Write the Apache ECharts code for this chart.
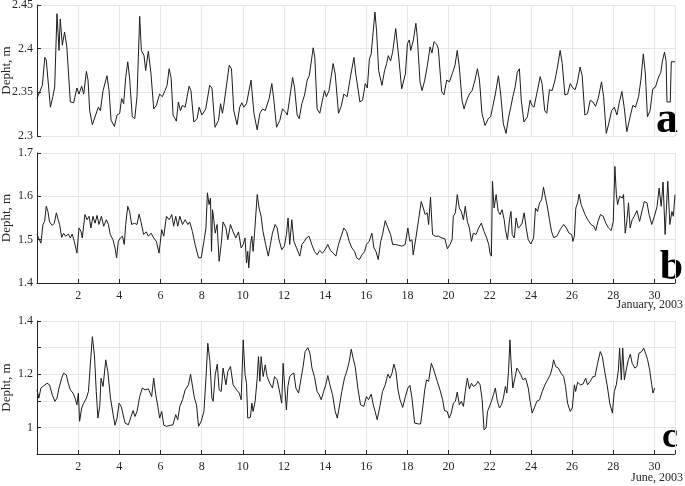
<!DOCTYPE html>
<html>
<head>
<meta charset="utf-8">
<script src="https://cdn.jsdelivr.net/npm/echarts@6/dist/echarts.min.js"></script>
<style>
  html, body { margin: 0; padding: 0; background: #fff; }
  #chart { width: 685px; height: 486px; }
</style>
</head>
<body>
<div id="chart"></div>
<script>
// panel a - January 2003, station depth (day of month, m)
var daysA = [0.00,0.26,0.38,0.45,0.65,0.77,0.86,0.97,1.07,1.13,1.23,1.34,1.45,1.62,1.78,1.94,2.04,2.17,2.27,2.40,2.48,2.56,2.69,2.85,2.98,3.08,3.21,3.30,3.40,3.50,3.60,3.76,3.89,4.02,4.11,4.21,4.31,4.41,4.50,4.63,4.75,4.86,4.99,5.07,5.20,5.28,5.41,5.54,5.67,5.80,5.96,6.09,6.22,6.32,6.42,6.52,6.61,6.77,6.87,6.97,7.06,7.20,7.39,7.48,7.62,7.78,7.88,8.01,8.20,8.39,8.50,8.65,8.82,8.92,9.01,9.07,9.34,9.45,9.56,9.72,9.85,9.95,10.05,10.18,10.40,10.54,10.70,10.83,10.96,11.09,11.28,11.41,11.51,11.64,11.80,11.93,12.06,12.16,12.29,12.42,12.51,12.64,12.74,12.87,13.00,13.13,13.23,13.29,13.42,13.50,13.61,13.74,13.87,13.97,14.06,14.19,14.39,14.49,14.65,14.78,14.91,15.07,15.24,15.40,15.49,15.69,15.82,15.95,16.05,16.15,16.24,16.31,16.42,16.50,16.60,16.76,16.89,16.99,17.07,17.18,17.28,17.43,17.56,17.72,17.80,17.90,18.00,18.09,18.16,18.29,18.41,18.48,18.61,18.71,18.84,18.97,19.10,19.19,19.29,19.42,19.50,19.66,19.77,19.91,20.04,20.20,20.31,20.42,20.52,20.65,20.75,20.88,21.01,21.14,21.27,21.40,21.50,21.62,21.77,21.93,22.04,22.14,22.27,22.42,22.53,22.66,22.79,22.92,23.02,23.12,23.23,23.34,23.44,23.53,23.66,23.83,23.96,24.05,24.15,24.28,24.45,24.54,24.67,24.77,24.90,25.03,25.16,25.29,25.42,25.52,25.65,25.78,25.91,26.04,26.15,26.26,26.39,26.49,26.62,26.75,26.88,27.01,27.14,27.27,27.43,27.53,27.66,27.79,27.92,28.05,28.18,28.28,28.42,28.53,28.66,28.82,28.95,29.08,29.23,29.34,29.46,29.56,29.66,29.79,29.92,30.05,30.18,30.31,30.39,30.49,30.57,30.61,30.77,30.82,31.00];
var depthA = [2.343,2.358,2.390,2.387,2.333,2.345,2.356,2.440,2.398,2.434,2.404,2.419,2.402,2.339,2.338,2.355,2.348,2.357,2.348,2.374,2.364,2.329,2.313,2.324,2.333,2.329,2.352,2.351,2.369,2.352,2.318,2.311,2.324,2.326,2.343,2.337,2.367,2.385,2.366,2.322,2.320,2.345,2.437,2.398,2.392,2.375,2.397,2.371,2.331,2.335,2.348,2.345,2.352,2.358,2.377,2.366,2.324,2.317,2.339,2.329,2.335,2.333,2.357,2.352,2.316,2.320,2.333,2.324,2.331,2.358,2.355,2.310,2.318,2.337,2.326,2.334,2.381,2.377,2.329,2.313,2.333,2.338,2.333,2.337,2.364,2.326,2.307,2.326,2.331,2.329,2.343,2.360,2.341,2.310,2.318,2.331,2.328,2.324,2.345,2.367,2.356,2.324,2.320,2.337,2.347,2.364,2.369,2.379,2.401,2.390,2.331,2.326,2.341,2.352,2.345,2.352,2.383,2.371,2.326,2.334,2.348,2.345,2.369,2.390,2.371,2.339,2.341,2.360,2.355,2.388,2.394,2.413,2.442,2.420,2.375,2.358,2.375,2.383,2.392,2.386,2.396,2.423,2.394,2.354,2.353,2.371,2.406,2.410,2.398,2.410,2.429,2.413,2.362,2.352,2.364,2.381,2.402,2.395,2.408,2.405,2.400,2.351,2.347,2.364,2.362,2.373,2.381,2.398,2.379,2.341,2.331,2.341,2.348,2.352,2.363,2.377,2.364,2.326,2.312,2.320,2.322,2.333,2.348,2.369,2.348,2.314,2.303,2.322,2.333,2.345,2.356,2.373,2.377,2.341,2.316,2.322,2.341,2.335,2.333,2.348,2.368,2.360,2.329,2.326,2.353,2.352,2.363,2.379,2.398,2.383,2.347,2.348,2.360,2.355,2.353,2.362,2.379,2.369,2.324,2.326,2.341,2.339,2.334,2.343,2.362,2.345,2.303,2.315,2.329,2.333,2.324,2.337,2.351,2.333,2.305,2.322,2.335,2.333,2.345,2.364,2.394,2.371,2.322,2.329,2.354,2.356,2.366,2.373,2.386,2.396,2.385,2.339,2.339,2.385,2.385];

// panel b - January 2003
var daysB = [0.00,0.09,0.19,0.29,0.37,0.45,0.53,0.61,0.74,0.84,0.94,1.03,1.10,1.20,1.29,1.39,1.52,1.62,1.71,1.81,1.94,2.04,2.14,2.20,2.33,2.43,2.53,2.62,2.72,2.82,2.92,3.01,3.13,3.24,3.37,3.47,3.56,3.69,3.79,3.87,3.95,4.05,4.15,4.24,4.31,4.41,4.50,4.60,4.73,4.86,4.96,5.05,5.18,5.31,5.41,5.54,5.67,5.80,5.93,6.06,6.16,6.29,6.42,6.55,6.64,6.74,6.84,6.94,7.07,7.20,7.33,7.42,7.55,7.68,7.85,7.98,8.11,8.21,8.28,8.36,8.43,8.48,8.53,8.59,8.66,8.75,8.85,8.95,9.04,9.18,9.27,9.40,9.53,9.66,9.79,9.92,10.02,10.11,10.18,10.24,10.29,10.37,10.44,10.50,10.57,10.70,10.79,10.89,10.98,11.11,11.24,11.34,11.44,11.57,11.67,11.76,11.89,12.02,12.12,12.20,12.28,12.38,12.48,12.61,12.77,12.87,12.99,13.09,13.22,13.35,13.48,13.61,13.74,13.87,14.00,14.13,14.26,14.39,14.52,14.65,14.78,14.91,15.04,15.17,15.30,15.43,15.53,15.66,15.79,15.92,16.01,16.14,16.27,16.37,16.47,16.58,16.70,16.79,16.92,17.05,17.18,17.28,17.41,17.57,17.73,17.89,18.02,18.12,18.22,18.28,18.41,18.54,18.67,18.77,18.86,18.96,19.03,19.12,19.22,19.35,19.51,19.67,19.82,19.94,20.07,20.17,20.23,20.33,20.42,20.52,20.62,20.72,20.81,20.91,21.01,21.11,21.20,21.33,21.46,21.59,21.72,21.85,21.95,22.01,22.08,22.13,22.21,22.31,22.41,22.50,22.60,22.70,22.76,22.86,22.96,23.03,23.09,23.19,23.28,23.38,23.48,23.57,23.67,23.77,23.87,24.00,24.13,24.22,24.32,24.42,24.52,24.61,24.71,24.81,24.90,25.00,25.10,25.26,25.42,25.59,25.72,25.85,25.98,26.04,26.11,26.18,26.27,26.34,26.44,26.53,26.63,26.76,26.92,27.05,27.15,27.25,27.38,27.51,27.64,27.77,27.90,28.00,28.08,28.15,28.21,28.31,28.44,28.50,28.58,28.66,28.74,28.82,28.92,29.02,29.15,29.28,29.41,29.51,29.64,29.74,29.87,30.00,30.13,30.23,30.33,30.42,30.52,30.65,30.75,30.85,30.92,31.00];
var depthB = [1.512,1.515,1.492,1.535,1.542,1.577,1.565,1.541,1.533,1.538,1.562,1.546,1.535,1.505,1.515,1.508,1.513,1.504,1.513,1.496,1.469,1.527,1.519,1.504,1.558,1.546,1.554,1.527,1.554,1.538,1.556,1.535,1.554,1.531,1.546,1.535,1.512,1.500,1.481,1.458,1.496,1.504,1.508,1.489,1.535,1.577,1.565,1.535,1.538,1.535,1.559,1.542,1.512,1.518,1.508,1.515,1.504,1.496,1.469,1.523,1.508,1.554,1.546,1.558,1.531,1.554,1.531,1.554,1.535,1.546,1.535,1.541,1.519,1.489,1.458,1.458,1.496,1.527,1.608,1.581,1.596,1.473,1.569,1.546,1.515,1.535,1.450,1.489,1.541,1.527,1.500,1.535,1.518,1.504,1.518,1.481,1.489,1.504,1.446,1.473,1.435,1.489,1.508,1.473,1.515,1.604,1.573,1.554,1.519,1.489,1.462,1.489,1.515,1.535,1.527,1.500,1.477,1.485,1.512,1.550,1.489,1.546,1.496,1.481,1.462,1.489,1.496,1.504,1.508,1.489,1.473,1.465,1.475,1.469,1.477,1.489,1.475,1.469,1.462,1.489,1.508,1.527,1.519,1.496,1.481,1.473,1.458,1.454,1.465,1.473,1.489,1.496,1.515,1.481,1.473,1.454,1.496,1.512,1.544,1.527,1.512,1.489,1.489,1.487,1.485,1.489,1.527,1.496,1.500,1.465,1.504,1.546,1.588,1.573,1.558,1.562,1.535,1.598,1.512,1.508,1.508,1.504,1.502,1.479,1.489,1.500,1.554,1.562,1.604,1.573,1.565,1.546,1.577,1.542,1.527,1.496,1.515,1.512,1.527,1.538,1.519,1.504,1.489,1.469,1.462,1.635,1.573,1.604,1.565,1.558,1.569,1.546,1.523,1.500,1.546,1.565,1.512,1.504,1.550,1.527,1.531,1.538,1.562,1.527,1.500,1.490,1.504,1.573,1.565,1.585,1.592,1.621,1.596,1.573,1.546,1.519,1.505,1.508,1.523,1.535,1.527,1.515,1.512,1.496,1.508,1.573,1.585,1.605,1.581,1.577,1.558,1.546,1.535,1.531,1.521,1.541,1.558,1.554,1.538,1.527,1.521,1.542,1.669,1.604,1.581,1.600,1.596,1.604,1.515,1.542,1.585,1.527,1.546,1.554,1.567,1.542,1.569,1.588,1.585,1.558,1.535,1.554,1.577,1.619,1.577,1.633,1.512,1.635,1.535,1.565,1.554,1.604];

// panel c - June 2003
var daysC = [0.00,0.09,0.19,0.29,0.39,0.49,0.61,0.74,0.87,0.97,1.07,1.20,1.29,1.42,1.52,1.62,1.75,1.85,1.94,2.01,2.07,2.17,2.27,2.40,2.50,2.59,2.69,2.79,2.88,2.96,3.05,3.11,3.21,3.34,3.44,3.57,3.70,3.79,3.89,3.99,4.09,4.18,4.28,4.44,4.57,4.67,4.76,4.86,4.99,5.12,5.25,5.41,5.57,5.67,5.77,5.87,5.96,6.06,6.16,6.29,6.48,6.61,6.74,6.84,6.94,7.07,7.20,7.36,7.46,7.55,7.65,7.75,7.85,7.98,8.11,8.21,8.30,8.40,8.50,8.56,8.66,8.76,8.85,8.95,9.04,9.18,9.27,9.40,9.53,9.70,9.83,9.92,10.02,10.11,10.18,10.24,10.37,10.44,10.50,10.60,10.70,10.76,10.83,10.89,10.99,11.09,11.18,11.31,11.44,11.54,11.67,11.80,11.89,11.96,12.04,12.12,12.19,12.28,12.38,12.48,12.58,12.71,12.80,12.93,13.03,13.16,13.26,13.36,13.48,13.61,13.71,13.81,13.94,14.03,14.13,14.23,14.36,14.49,14.59,14.68,14.81,14.94,15.07,15.17,15.27,15.36,15.46,15.59,15.72,15.88,16.01,16.11,16.24,16.34,16.43,16.53,16.66,16.79,16.92,17.05,17.15,17.25,17.34,17.44,17.54,17.64,17.77,17.90,18.02,18.12,18.22,18.35,18.54,18.64,18.74,18.84,18.93,19.03,19.16,19.25,19.35,19.45,19.58,19.71,19.80,19.93,20.03,20.13,20.23,20.33,20.42,20.52,20.62,20.72,20.81,20.91,21.01,21.11,21.20,21.33,21.43,21.53,21.63,21.72,21.82,21.89,21.98,22.08,22.18,22.27,22.37,22.47,22.57,22.66,22.76,22.83,22.91,22.98,23.04,23.12,23.22,23.32,23.42,23.51,23.61,23.74,23.87,23.96,24.06,24.16,24.29,24.42,24.55,24.68,24.81,24.94,25.03,25.10,25.20,25.33,25.46,25.59,25.68,25.78,25.91,26.01,26.11,26.17,26.27,26.40,26.53,26.66,26.75,26.88,27.01,27.11,27.24,27.37,27.47,27.57,27.70,27.83,27.96,28.05,28.15,28.25,28.31,28.39,28.46,28.54,28.63,28.73,28.83,28.92,29.05,29.15,29.25,29.38,29.48,29.57,29.67,29.77,29.87,29.93,30.01];
var depthC = [1.141,1.110,1.148,1.154,1.160,1.166,1.160,1.123,1.098,1.110,1.148,1.185,1.204,1.198,1.166,1.141,1.129,1.110,1.085,1.129,1.023,1.073,1.091,1.110,1.135,1.235,1.341,1.273,1.135,1.035,1.079,1.185,1.154,1.254,1.210,1.110,1.048,1.008,1.035,1.091,1.079,1.073,1.016,1.010,1.041,1.063,1.041,1.060,1.116,1.148,1.141,1.145,1.116,1.185,1.123,1.079,1.035,1.060,1.008,1.004,1.008,1.010,1.048,1.029,1.079,1.104,1.141,1.160,1.200,1.195,1.110,1.085,1.004,1.023,1.060,1.185,1.316,1.248,1.110,1.098,1.198,1.238,1.141,1.135,1.223,1.160,1.210,1.229,1.160,1.141,1.129,1.104,1.329,1.198,1.166,1.035,1.038,1.091,1.060,1.098,1.185,1.266,1.173,1.266,1.191,1.235,1.191,1.166,1.148,1.191,1.179,1.129,1.091,1.241,1.148,1.066,1.154,1.191,1.200,1.204,1.148,1.129,1.129,1.229,1.285,1.300,1.279,1.223,1.191,1.135,1.123,1.104,1.138,1.160,1.195,1.160,1.123,1.060,1.035,1.073,1.135,1.185,1.216,1.248,1.294,1.260,1.229,1.148,1.085,1.079,1.116,1.104,1.125,1.085,1.060,1.029,1.079,1.135,1.160,1.200,1.185,1.204,1.238,1.210,1.141,1.104,1.075,1.116,1.148,1.158,1.110,1.016,1.013,1.013,1.073,1.141,1.179,1.173,1.241,1.223,1.198,1.173,1.141,1.104,1.063,1.060,1.035,1.054,1.091,1.098,1.133,1.085,1.098,1.079,1.135,1.185,1.145,1.166,1.154,1.160,1.173,1.160,1.104,0.991,0.998,1.060,1.054,1.098,1.123,1.148,1.098,1.073,1.085,1.110,1.154,1.129,1.210,1.329,1.235,1.148,1.185,1.223,1.210,1.198,1.179,1.185,1.148,1.098,1.054,1.073,1.098,1.104,1.135,1.160,1.179,1.198,1.223,1.254,1.229,1.223,1.204,1.191,1.154,1.091,1.060,1.073,1.160,1.135,1.170,1.160,1.163,1.185,1.160,1.173,1.191,1.191,1.241,1.285,1.266,1.216,1.160,1.091,1.054,1.135,1.160,1.216,1.298,1.179,1.298,1.179,1.216,1.254,1.275,1.241,1.223,1.229,1.279,1.285,1.298,1.279,1.254,1.216,1.160,1.129,1.148];

var serif = "'Liberation Serif', 'DejaVu Serif', serif";
var ink = "#262626";

function pairs(xs, ys) {
  var out = [];
  for (var i = 0; i < xs.length; i++) out.push([xs[i], ys[i]]);
  return out;
}

function dayAxis(idx, labels) {
  return {
    type: "value", gridIndex: idx, min: 0, max: 31, interval: 2,
    axisLine: { show: labels, lineStyle: { color: ink, width: 1 } },
    axisTick: { show: labels, inside: true, length: 4, lineStyle: { color: ink } },
    axisLabel: {
      show: labels, margin: 7, color: ink, fontFamily: serif, fontSize: 12,
      formatter: function (v) { return (v > 0 && v <= 30 && v % 2 === 0) ? String(v) : ""; }
    },
    splitLine: { show: true, lineStyle: { color: "#e6e6e6", width: 1 } }
  };
}

function depthAxis(idx, min, max, step, fmt) {
  return {
    type: "value", gridIndex: idx, min: min, max: max, interval: step,
    name: "Depht, m", nameLocation: "middle", nameGap: 24, nameRotate: 90, nameMoveOverlap: false,
    nameTextStyle: { color: ink, fontFamily: serif, fontSize: 13 },
    axisLine: { show: true, lineStyle: { color: ink, width: 1 } },
    axisTick: { show: true, inside: true, length: 4, lineStyle: { color: ink } },
    axisLabel: { color: ink, fontFamily: serif, fontSize: 12, margin: 4, formatter: fmt },
    splitLine: { show: true, lineStyle: { color: "#e6e6e6", width: 1 } }
  };
}

function depthLine(idx, data) {
  return {
    type: "line", xAxisIndex: idx, yAxisIndex: idx, data: data,
    showSymbol: false, symbol: "none",
    lineStyle: { color: "#1c1c1c", width: 1 }
  };
}

function letter(txt, x, y, size) {
  return {
    type: "text", x: x, y: y,
    style: { text: txt, fill: "#000", font: "bold " + size + "px " + serif, textAlign: "right", textVerticalAlign: "middle" }
  };
}

function panelGrid(top, height) {
  return { left: 37, right: 10, top: top, height: height, containLabel: false, outerBoundsMode: "none" };
}

var chart = echarts.init(document.getElementById("chart"), null, { renderer: "canvas" });
chart.setOption({
  animation: false,
  backgroundColor: "#fff",
  grid: [panelGrid(5, 131), panelGrid(153, 130), panelGrid(321, 133)],
  xAxis: [dayAxis(0, false), dayAxis(1, true), dayAxis(2, true)],
  yAxis: [
    depthAxis(0, 2.3, 2.45, 0.05),
    depthAxis(1, 1.4, 1.7, 0.1),
    depthAxis(2, 0.9, 1.4, 0.1, function (v) {
      var k = Math.round(v * 10);
      return (k % 2 === 0) ? String(+(k / 10).toFixed(1)) : "";
    })
  ],
  series: [
    depthLine(0, pairs(daysA, depthA)),
    depthLine(1, pairs(daysB, depthB)),
    depthLine(2, pairs(daysC, depthC))
  ],
  graphic: [
    letter("a", 678, 121, 44),
    letter("b", 683, 268, 42),
    letter("c", 678, 438, 36),
    { type: "text", x: 683, y: 305, style: { text: "January, 2003", fill: ink, font: "12px " + serif, textAlign: "right", textVerticalAlign: "middle" } },
    { type: "text", x: 683, y: 478, style: { text: "June, 2003", fill: ink, font: "12px " + serif, textAlign: "right", textVerticalAlign: "middle" } }
  ]
});
</script>
</body>
</html>
